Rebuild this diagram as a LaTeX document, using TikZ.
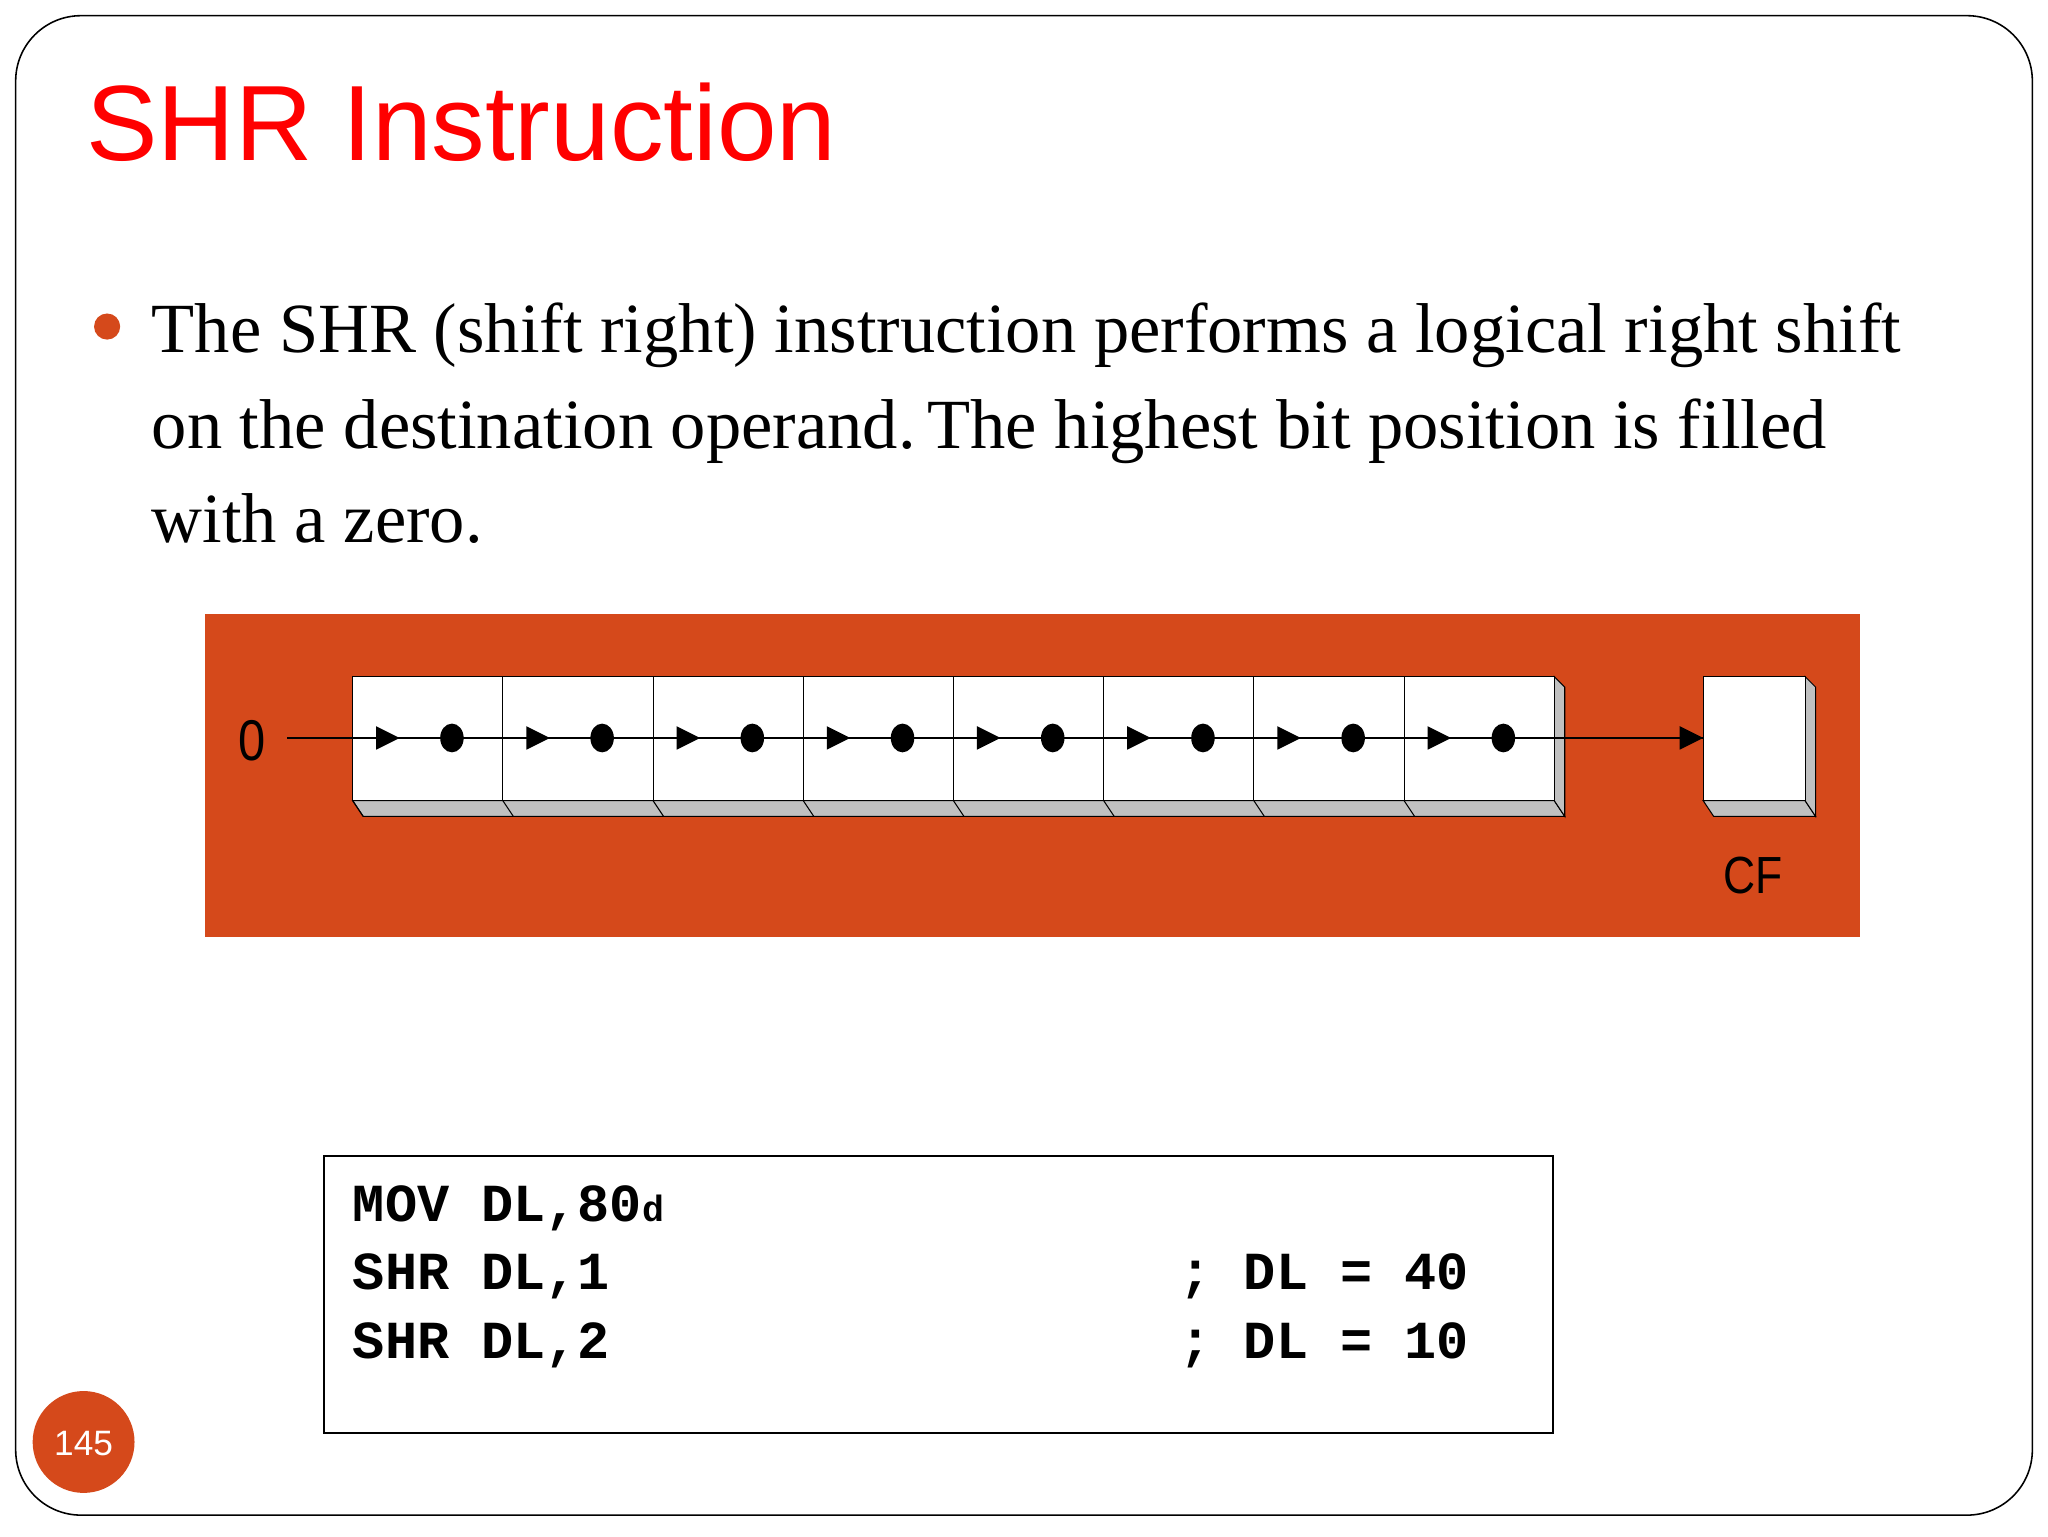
\documentclass[tikz,border=0pt]{standalone}
\usepackage{fontspec}
\setmainfont{Liberation Serif}
\setsansfont{Liberation Sans}
\setmonofont{Liberation Mono}
\definecolor{org}{HTML}{D5491B}
\definecolor{shd}{HTML}{C0C0C0}
\begin{document}
\begin{tikzpicture}[x=1pt,y=-1pt,
  cell/.style={draw,fill=white,line width=0.8pt},
  face/.style={draw,fill=shd,line width=0.8pt},
  body/.style={anchor=base west,inner sep=0,font=\fontsize{54}{60}\selectfont}]
\useasboundingbox (0,0) rectangle (1568,1176);
\draw[line width=1.2pt,rounded corners=50] (12,12) rectangle (1556,1160);
\node[anchor=base west,inner sep=0,text=red,font=\sffamily\fontsize{82}{90}\selectfont] (title) at (66,123) {SHR Instruction};
\fill[org] (82,250) circle (10);
\node[body] (t1) at (116,270) {The SHR (shift right) instruction performs a logical right shift};
\node[body] (t2) at (116,343) {on the destination operand.\,The highest bit position is filled};
\node[body] (t3) at (116,415) {with a zero.};
\fill[org] (157,470) rectangle (1424,717);
\draw[face] (270,613) -- (1190,613) -- (1198,625) -- (278,625) -- cycle;
\draw[face] (1190,518) -- (1198,526) -- (1198,625) -- (1190,613) -- cycle;
\foreach \k in {0,...,7}{
  \draw[line width=0.8pt] ({270+115*\k},613) -- ({278+115*\k},625);
  \draw[cell] ({270+115*\k},518) rectangle ({385+115*\k},613);
}
\draw[face] (1304,613) -- (1382,613) -- (1390,625) -- (1312,625) -- cycle;
\draw[face] (1382,518) -- (1390,526) -- (1390,625) -- (1382,613) -- cycle;
\draw[cell] (1304,518) rectangle (1382,613);
\node[font=\sffamily\fontsize{44}{44}\selectfont,inner sep=0,xscale=0.85] (zero) at (193,567) {0};
\node[font=\sffamily\fontsize{40}{40}\selectfont,inner sep=0,xscale=0.85] (cf) at (1342,670) {CF};
\coordinate (s) at (220,565);
\coordinate (e) at (1304,565);
\draw[line width=0.9pt] (s) -- (e);
\foreach \k in {0,...,7}{
  \fill ({288+115*\k},556) -- ({306+115*\k},565) -- ({288+115*\k},574) -- cycle;
  \fill ({346+115*\k},565) ellipse (9 and 11);
}
\fill (1286,556) -- (1304,565) -- (1286,574) -- cycle;
\draw[line width=1.5pt] (248,885) rectangle (1189,1097);
\begin{scope}[every node/.style={anchor=base west,inner sep=0,font=\ttfamily\bfseries\fontsize{41}{41}\selectfont}]
\node (l1) at (270,935) {MOV DL,80{\fontsize{28}{28}\selectfont d}};
\node (l2) at (270,987) {SHR DL,1};
\node (l3) at (270,1040) {SHR DL,2};
\node (r2) at (903,987) {; DL = 40};
\node (r3) at (903,1040) {; DL = 10};
\end{scope}
\fill[org] (64,1104) circle (39);
\node[text=white,font=\sffamily\fontsize{27}{27}\selectfont] (pg) at (64,1105) {145};
\end{tikzpicture}
\end{document}
